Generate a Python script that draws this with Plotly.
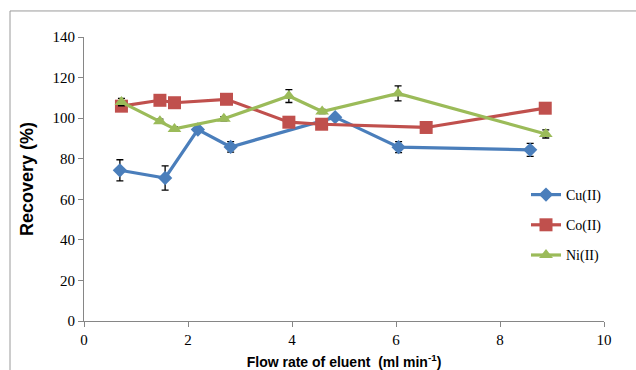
import plotly.graph_objects as go

# Recovery (%) versus eluent flow rate for three metal ions
cu_flow = [0.69, 1.56, 2.19, 2.82, 4.83, 6.05, 8.58]
cu_recovery = [74.3, 70.5, 94.4, 85.8, 100.5, 85.7, 84.4]
cu_err = [5.2, 6.0, 1.0, 2.6, 0.8, 2.7, 3.2]

co_flow = [0.72, 1.46, 1.74, 2.74, 3.94, 4.57, 6.58, 8.87]
co_recovery = [105.9, 108.8, 107.6, 109.3, 98.0, 97.0, 95.4, 104.9]
co_err = [1.0, 1.0, 1.0, 1.0, 1.0, 1.0, 1.0, 1.0]

ni_flow = [0.72, 1.46, 1.74, 2.69, 3.94, 4.58, 6.04, 8.88]
ni_recovery = [107.9, 98.5, 94.7, 99.7, 110.9, 103.3, 112.2, 92.2]
ni_err = [1.8, 1.0, 1.0, 1.0, 3.2, 1.0, 3.7, 2.0]

x_ticks = [0, 2, 4, 6, 8, 10]
y_ticks = [0, 20, 40, 60, 80, 100, 120, 140]

series = [
    ("Cu(II)", cu_flow, cu_recovery, cu_err, "#4A7EBB", "diamond", 11),
    ("Co(II)", co_flow, co_recovery, co_err, "#C0504D", "square", 13),
    ("Ni(II)", ni_flow, ni_recovery, ni_err, "#9BBB59", "triangle-up", 12),
]

fig = go.Figure()
for name, xs, ys, errs, color, symbol, size in series:
    fig.add_trace(go.Scatter(
        x=xs, y=ys, name=name, mode="lines+markers",
        legendgroup=name,
        line=dict(color=color, width=3.2),
        marker=dict(symbol=symbol, size=size, color=color),
        error_y=dict(type="data", array=errs, visible=True,
                     color="black", thickness=1.3, width=3.5),
    ))

axis_color = "#868686"
tick_font = dict(family="Liberation Serif", size=15, color="black")

fig.update_layout(
    width=636, height=370,
    margin=dict(l=84, r=32, t=37, b=49),
    paper_bgcolor="white", plot_bgcolor="white",
    showlegend=True,
    legend=dict(
        x=0.85, y=0.50, xanchor="left", yanchor="top",
        font=dict(family="Liberation Serif", size=14, color="black"),
        tracegroupgap=9, bgcolor="rgba(0,0,0,0)",
    ),
    xaxis=dict(
        range=[0, 10], tickvals=x_ticks, ticks="outside", ticklen=5,
        tickcolor=axis_color, showline=True, linecolor=axis_color,
        linewidth=1, showgrid=False, zeroline=False, tickfont=tick_font,
        automargin=False,
        title=dict(text="Flow rate of eluent  (ml min<sup>-1</sup>)",
                   font=dict(family="Liberation Sans", size=14, color="black",
                             weight="bold"),
                   standoff=14),
    ),
    yaxis=dict(
        range=[0, 140], tickvals=y_ticks, ticks="outside", ticklen=5,
        tickcolor=axis_color, showline=True, linecolor=axis_color,
        linewidth=1, showgrid=False, zeroline=False, tickfont=tick_font,
        automargin=False,
        title=dict(text="Recovery (%)",
                   font=dict(family="Liberation Sans", size=18, color="black",
                             weight="bold"),
                   standoff=14),
    ),
    shapes=[dict(
        type="rect", xref="paper", yref="paper",
        x0=-0.1423, x1=1.2, y0=-0.3, y1=1.0917,
        line=dict(color="#9A9A9A", width=1), fillcolor="rgba(0,0,0,0)",
        layer="below",
    )],
)

fig.write_html("out.html")
